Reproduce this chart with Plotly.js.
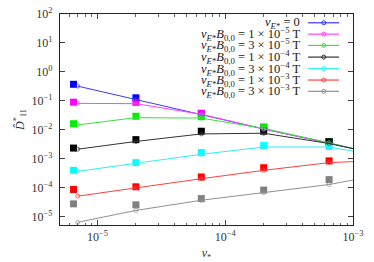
<!DOCTYPE html>
<html>
<head>
<meta charset="utf-8">
<script src="https://cdn.plot.ly/plotly-3.0.1.min.js"></script>
<style>html,body{margin:0;padding:0;background:#fff}#plot{width:374px;height:262px}</style>
</head>
<body>
<div id="plot"></div>
<script>
// x positions (collisionality nu*)
var xLine = [7e-6, 2e-5, 6.5e-5, 2e-4, 6.5e-4, 1e-3];
var xSq = [6.5e-6, 2e-5, 6.5e-5, 2e-4, 6.5e-4];

// line series (open circle markers)
var blueLine = [0.32, 0.11, 0.034, 0.0105, 0.0034, 0.0022];
var magentaLine = [0.081, 0.079, 0.034, 0.0105, 0.0034, 0.0022];
var greenLine = [0.0145, 0.026, 0.025, 0.011, 0.0035, 0.0022];
var blackLine = [0.0021, 0.0039, 0.0071, 0.0075, 0.0033, 0.0022];
var cyanLine = [0.00036, 0.00068, 0.0014, 0.0025, 0.0025, 0.0018];
var redLine = [5.0e-5, 9.8e-5, 2.0e-4, 3.9e-4, 7.2e-4, 7.8e-4];
var grayLine = [6.2e-6, 1.6e-5, 3.6e-5, 6.6e-5, 1.26e-4, 1.8e-4];

// square series (filled squares)
var blueSq = [0.37, 0.126, 0.036, 0.012, 0.0038];
var magentaSq = [0.089, 0.087, 0.037, 0.012, 0.0038];
var greenSq = [0.016, 0.029, 0.028, 0.012, 0.0038];
var blackSq = [0.0023, 0.0045, 0.0088, 0.0088, 0.0038];
var cyanSq = [0.00039, 0.00072, 0.0016, 0.0028, 0.0026];
var redSq = [8.5e-5, 1.05e-4, 2.3e-4, 4.8e-4, 8.3e-4];
var graySq = [2.7e-5, 2.5e-5, 4.1e-5, 8.1e-5, 1.86e-4];

// tick labels
var yTickVals = [1e-5, 1e-4, 1e-3, 1e-2, 1e-1, 1e0, 1e1, 1e2];
var yTickText = ['10<sup>−5</sup>', '10<sup>−4</sup>', '10<sup>−3</sup>', '10<sup>−2</sup>', '10<sup>−1</sup>', '10<sup>0</sup>', '10<sup>1</sup>', '10<sup>2</sup>'];
var xTickVals = [1e-5, 1e-4, 1e-3];
var xTickText = ['10<sup>−5</sup>', '10<sup>−4</sup>', '10<sup>−3</sup>'];

var legendLabels = [
  '<i>v</i><sub><i>E</i>*</sub> = 0',
  '<i>v</i><sub><i>E</i>*</sub><i>B</i><sub>0,0</sub> = 1 × 10<sup>−5</sup> T',
  '<i>v</i><sub><i>E</i>*</sub><i>B</i><sub>0,0</sub> = 3 × 10<sup>−5</sup> T',
  '<i>v</i><sub><i>E</i>*</sub><i>B</i><sub>0,0</sub> = 1 × 10<sup>−4</sup> T',
  '<i>v</i><sub><i>E</i>*</sub><i>B</i><sub>0,0</sub> = 3 × 10<sup>−4</sup> T',
  '<i>v</i><sub><i>E</i>*</sub><i>B</i><sub>0,0</sub> = 1 × 10<sup>−3</sup> T',
  '<i>v</i><sub><i>E</i>*</sub><i>B</i><sub>0,0</sub> = 3 × 10<sup>−3</sup> T'
];

var sqColors = ['#0000ff', '#ff00ff', '#00ee00', '#000000', '#00ffff', '#ff0000', '#808080'];
var lineColors = ['#3a3aff', '#ff40ff', '#3ddf3d', '#333333', '#30f0f0', '#ff4040', '#909090'];
var lines = [blueLine, magentaLine, greenLine, blackLine, cyanLine, redLine, grayLine];
var squares = [blueSq, magentaSq, greenSq, blackSq, cyanSq, redSq, graySq];

var traces = [];
for (var i = 0; i < squares.length; i++) {
  traces.push({
    x: xSq, y: squares[i], type: 'scatter', mode: 'markers', showlegend: false,
    marker: {symbol: 'square', size: 7, color: sqColors[i], line: {width: 0}},
    hoverinfo: 'skip'
  });
}
for (var j = 0; j < lines.length; j++) {
  traces.push({
    x: xLine, y: lines[j], type: 'scatter', mode: 'lines+markers', name: legendLabels[j], showlegend: false,
    line: {color: lineColors[j], width: 1},
    marker: {symbol: 'circle-open', size: [4, 4, 4, 4, 4, 0], color: lineColors[j], line: {width: 1}}
  });
}

// legend drawn as annotations (text at left, sample line at right)
var L = 59.5, R = 353, T = 13.5, B = 225;
var W = R - L, H = B - T;
var rowY = [22.3, 33.7, 45, 56.7, 68.3, 79.7, 91];
var annotations = [], shapes = [];
for (var k = 0; k < legendLabels.length; k++) {
  var py = (B - rowY[k]) / H;
  annotations.push({
    xref: 'paper', yref: 'paper', x: (302 - L) / W, y: py, xanchor: 'right', yanchor: 'middle',
    text: legendLabels[k], showarrow: false,
    font: {family: 'Liberation Serif, DejaVu Serif, serif', size: 12.5, color: '#222'}
  });
  shapes.push({
    type: 'line', xref: 'paper', yref: 'paper', x0: (308 - L) / W, x1: (339 - L) / W, y0: py, y1: py,
    line: {color: lineColors[k], width: 1.2}
  });
  shapes.push({
    type: 'circle', xref: 'paper', yref: 'paper', xsizemode: 'pixel', ysizemode: 'pixel',
    xanchor: (323.7 - L) / W, yanchor: py, x0: -2, x1: 2, y0: -2, y1: 2,
    line: {color: lineColors[k], width: 1}, fillcolor: 'rgba(255,255,255,0)'
  });
}

var fontTick = {family: 'Liberation Serif, DejaVu Serif, serif', size: 12, color: '#333'};

var layout = {
  width: 374, height: 262,
  margin: {l: L, r: 374 - R, t: T, b: 262 - B, pad: 0},
  paper_bgcolor: '#fff', plot_bgcolor: '#fff',
  showlegend: false,
  xaxis: {
    type: 'log', range: [-5.293, -3], tickmode: 'array', tickvals: xTickVals, ticktext: xTickText,
    showgrid: false, zeroline: false, showline: true, linecolor: '#222', linewidth: 1.2, mirror: 'ticks',
    ticks: 'inside', ticklen: 5, tickcolor: '#444', tickfont: fontTick,
    minor: {ticks: 'inside', ticklen: 2.5, tickcolor: '#666', dtick: 'D1', showgrid: false},
    title: {text: '<i>ν</i><sub>*</sub>', font: {family: 'Liberation Serif, DejaVu Serif, serif', size: 12, color: '#333'}, standoff: 6}
  },
  yaxis: {
    type: 'log', range: [-5.3, 2], tickmode: 'array', tickvals: yTickVals, ticktext: yTickText,
    showgrid: false, zeroline: false, showline: true, linecolor: '#222', linewidth: 1.2, mirror: 'ticks',
    ticks: 'inside', ticklen: 5, tickcolor: '#444', tickfont: fontTick, ticklabelstandoff: 4,
    title: {text: '<i>D̂</i><sup>*</sup><sub>11</sub>', font: {family: 'Liberation Serif, DejaVu Serif, serif', size: 12, color: '#333'}, standoff: 4}
  },
  annotations: annotations,
  shapes: shapes
};

Plotly.newPlot('plot', traces, layout, {displayModeBar: false, staticPlot: true});
</script>
</body>
</html>
